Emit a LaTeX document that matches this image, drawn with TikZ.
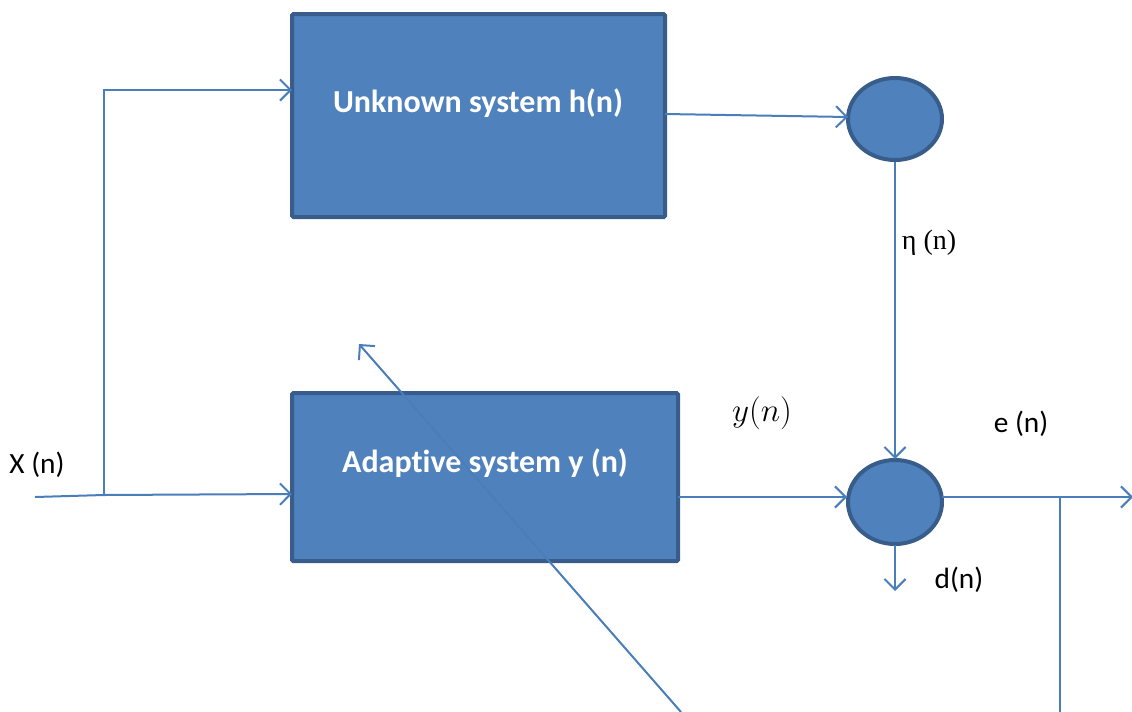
\documentclass[tikz,border=0pt]{standalone}
\usepackage{fontspec}
\setmainfont[Ligatures=NoCommon]{Carlito}
\newfontfamily\serifrm{Liberation Serif}
\usetikzlibrary{arrows.meta}
\definecolor{boxfill}{HTML}{4F81BD}
\definecolor{boxline}{HTML}{385D8A}
\definecolor{wire}{HTML}{4A7EBB}
\begin{document}
\begin{tikzpicture}[x=0.75pt,y=-0.75pt,
  blk/.style={draw=boxline,fill=boxfill,line width=3pt,rounded corners=1pt},
  wirel/.style={draw=wire,line width=1.5pt},
  arr/.style={wirel,-{Straight Barb[length=8pt,width=16pt,line width=1.5pt]}},
  lbl/.style={font=\fontsize{22}{26}\selectfont,text=black,inner sep=0pt},
  blbl/.style={font=\fontsize{24}{28}\selectfont\bfseries,text=white,inner sep=0pt}]
\useasboundingbox (0,0) rectangle (1132,711);
% boxes
\path[blk] (292,14) rectangle (665,217);
\coordinate (top) at (292,90);
\path[blk] (292,393) rectangle (678,561);
\node[blbl] (ut) at (478,103) {Unknown system h(n)};
\node[blbl] (at) at (485,463) {Adaptive system y (n)};
% circles
\path[draw=boxline,fill=boxfill,line width=3pt] (895,119) ellipse [x radius=47,y radius=41];
\path[draw=boxline,fill=boxfill,line width=3pt] (895,502) ellipse [x radius=47,y radius=42];
\coordinate (c1w) at (848,117);
\coordinate (c1s) at (895,162);
\coordinate (c2n) at (895,459);
\coordinate (c2w) at (847,497);
\coordinate (c2e) at (942,497);
\coordinate (c2s) at (895,545);
% input
\coordinate (in) at (35,497);
\coordinate (br) at (104,495);
\coordinate (brt) at (104,90);
\coordinate (b1e) at (665,114);
\coordinate (b2e) at (678,497);
\coordinate (b2w) at (292,494);
\draw[wirel] (in) -- (br);
\draw[arr] (br) -- (b2w);
\draw[arr] (br) -- (brt) -- (top);
\draw[arr] (b1e) -- (c1w);
\draw[arr] (c1s) -- (c2n);
\draw[arr] (b2e) -- (c2w);
\coordinate (out) at (1133,497);
\coordinate (tap) at (1060,497);
\coordinate (tapb) at (1060,712);
\draw[arr] (c2e) -- (out);
\draw[wirel] (tap) -- (tapb);
\coordinate (dend) at (895,591);
\draw[arr] (c2s) -- (dend);
\coordinate (dg0) at (681,712);
\coordinate (dg1) at (359,344);
\draw[arr] (dg0) -- (dg1);
% labels
\node[lbl] (xl) at (37,465) {X (n)};
\node[lbl,font=\serifrm\fontsize{21}{24}\selectfont] (etal) at (929,243) {η (n)};
\node[lbl] (yl) at (762,413) {\fontsize{26}{30}\selectfont$y(n)$};
\node[lbl] (el) at (1021,424) {e (n)};
\node[lbl] (dl) at (959,580) {d(n)};
\end{tikzpicture}
\end{document}
